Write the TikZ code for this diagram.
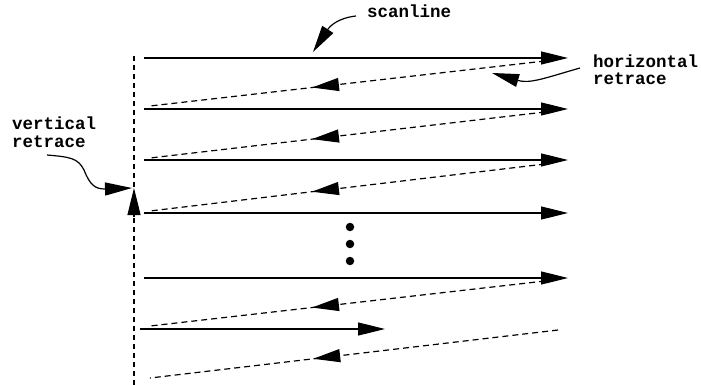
\documentclass[tikz,border=0pt]{standalone}
\usepackage{fontspec}
\setmonofont{Liberation Mono}
\usetikzlibrary{arrows.meta,decorations.markings,calc}
\tikzset{
  tri/.tip={Triangle[length=27pt,width=13pt]},
  scan/.style={line width=1.2pt,-tri},
  retr/.style={line width=1.2pt,dash pattern=on 6pt off 4pt,postaction={decorate},
    decoration={markings,mark=at position #1 with {\arrow{tri}}}},
  vret/.style={line width=1.2pt,dash pattern=on 5pt off 4pt},
  callout/.style={line width=1.2pt,-tri},
  lbl/.style={font=\ttfamily\bfseries\fontsize{17.5}{17}\selectfont,inner sep=0pt,align=left},
  dot/.style={circle,fill=black,inner sep=0pt,minimum size=8.5pt}
}
\begin{document}
\begin{tikzpicture}[x=1pt,y=-1pt]
\useasboundingbox (0,0) rectangle (701,385);
% vertical retrace line
\coordinate (vtop) at (134,56);
\coordinate (vbot) at (134,385);
\coordinate (vab) at (134,217);
\coordinate (vat) at (134,188);
\draw[vret] (vbot) -- (vtop);
\draw[callout] (vab) -- (vat);
% scanlines
\foreach \n/\y in {1/58,2/109,3/160,4/213,5/278}{
  \coordinate (s\n) at (144,\y);
  \coordinate (e\n) at (568,\y);
  \draw[scan] (s\n) -- (e\n);
}
\coordinate (s6) at (140,329);
\coordinate (e6) at (385,329);
\draw[scan] (s6) -- (e6);
% horizontal retraces
\foreach \n/\ly/\ry in {1/106/61,2/158/112,3/211/164,4/326/281}{
  \coordinate (hl\n) at (150,\ly);
  \coordinate (hr\n) at (545,\ry);
  \draw[retr=0.59] (hr\n) -- (hl\n);
}
\coordinate (hl5) at (150,378);
\coordinate (hr5) at (558,330);
\draw[retr=0.6] (hr5) -- (hl5);
% dots
\node[dot] (d1) at (350,227) {};
\node[dot] (d2) at (350,244) {};
\node[dot] (d3) at (350,261) {};
% labels
\node[lbl,anchor=base west] (scan) at (367,18) {scanline};
\node[lbl,anchor=base west] (hor1) at (593,68) {horizontal};
\node[lbl,anchor=base west] (hor2) at (593,85) {retrace};
\node[lbl,anchor=base west] (ver1) at (12,130) {vertical};
\node[lbl,anchor=base west] (ver2) at (12,147) {retrace};
% callouts
\coordinate (c1s) at (356,16);
\coordinate (c1e) at (313,52);
\draw[callout] (c1s) .. controls (338,18) and (330,26) .. (c1e);
\coordinate (c2s) at (580,68);
\coordinate (c2e) at (492,73);
\draw[callout] (c2s) .. controls (545,78) and (530,84) .. (c2e);
\coordinate (c3s) at (47,155);
\coordinate (c3e) at (132,188);
\draw[callout] (c3s) .. controls (70,157) and (78,158) .. (84,170) .. controls (90,185) and (95,189) .. (105,189) -- (c3e);
\end{tikzpicture}
\end{document}
